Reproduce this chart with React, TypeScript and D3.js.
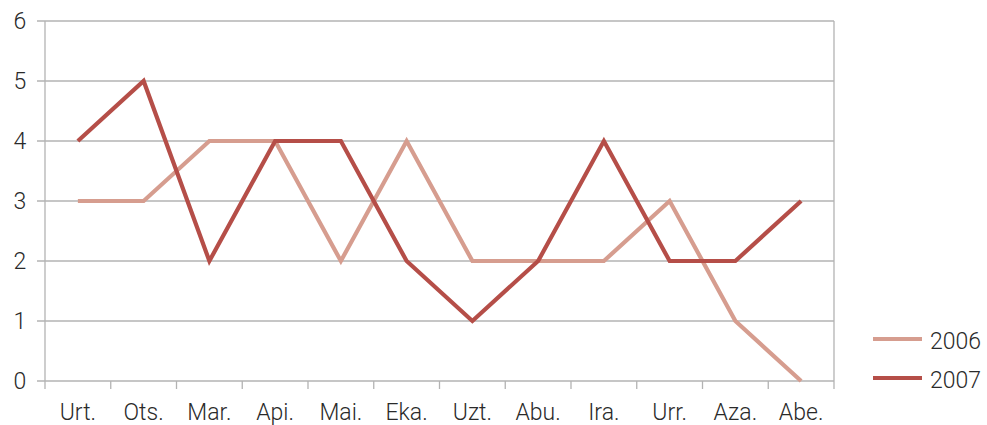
import React from 'react'
import * as d3 from 'd3'

const months = ['Urt.', 'Ots.', 'Mar.', 'Api.', 'Mai.', 'Eka.', 'Uzt.', 'Abu.', 'Ira.', 'Urr.', 'Aza.', 'Abe.']
const values2006 = [3, 3, 4, 4, 2, 4, 2, 2, 2, 3, 1, 0]
const values2007 = [4, 5, 2, 4, 4, 2, 1, 2, 4, 2, 2, 3]
const yTicks = [0, 1, 2, 3, 4, 5, 6]
const seriesNames = ['2006', '2007']
const seriesColors = ['#d69d8f', '#b54e48']

export default function App () {
  const width = 987
  const height = 425
  const left = 45
  const right = 834
  const top = 21
  const bottom = 381

  const x = d3.scaleBand<string>().domain(months).range([left, right])
  const y = d3.scaleLinear().domain([0, 6]).range([bottom, top])
  const line = d3.line<number>()
    .x((_, i) => (x(months[i]) as number) + x.bandwidth() / 2)
    .y(v => y(v))

  const series = [values2006, values2007]
  const font = 'Roboto, "Liberation Sans", sans-serif'

  return <div style={{ position: 'absolute', left: 0, top: 0 }}>
    <svg width={width} height={height} style={{ display: 'block', background: '#fff' }}>
      <g>
        {yTicks.map(v => <line key={v} x1={37} x2={right} y1={y(v)} y2={y(v)} stroke='#b3b3b3' strokeWidth={1.3} />)}
        <line x1={left} x2={left} y1={top} y2={bottom} stroke='#b3b3b3' strokeWidth={1.3} />
        <line x1={right} x2={right} y1={top} y2={bottom} stroke='#b3b3b3' strokeWidth={1.3} />
        {months.concat(['end']).map((m, i) => {
          const xx = i < months.length ? (x(m) as number) : right
          return <line key={i} x1={xx} x2={xx} y1={bottom} y2={bottom + 8} stroke='#b3b3b3' strokeWidth={1.3} />
        })}
      </g>
      <g fontFamily={font} fontWeight={300} fill='#2a2a2a'>
        {yTicks.map(v => <text key={v} x={20} y={y(v) + 8} fontSize={23} textAnchor='middle'>{v}</text>)}
        {months.map(m => <text key={m} x={(x(m) as number) + x.bandwidth() / 2} y={420} fontSize={23} textAnchor='middle'>{m}</text>)}
      </g>
      {series.map((s, i) => <path key={i} d={line(s) as string} fill='none' stroke={seriesColors[i]} strokeWidth={4.2} strokeLinejoin='miter' />)}
      <g fontFamily={font} fontWeight={300} fill='#2a2a2a'>
        {seriesNames.map((n, i) => <g key={n} transform={`translate(873,${339 + i * 39})`}>
          <line x1={0} x2={49} y1={0} y2={0} stroke={seriesColors[i]} strokeWidth={4.2} />
          <text x={57} y={10} fontSize={23}>{n}</text>
        </g>)}
      </g>
    </svg>
  </div>
}
